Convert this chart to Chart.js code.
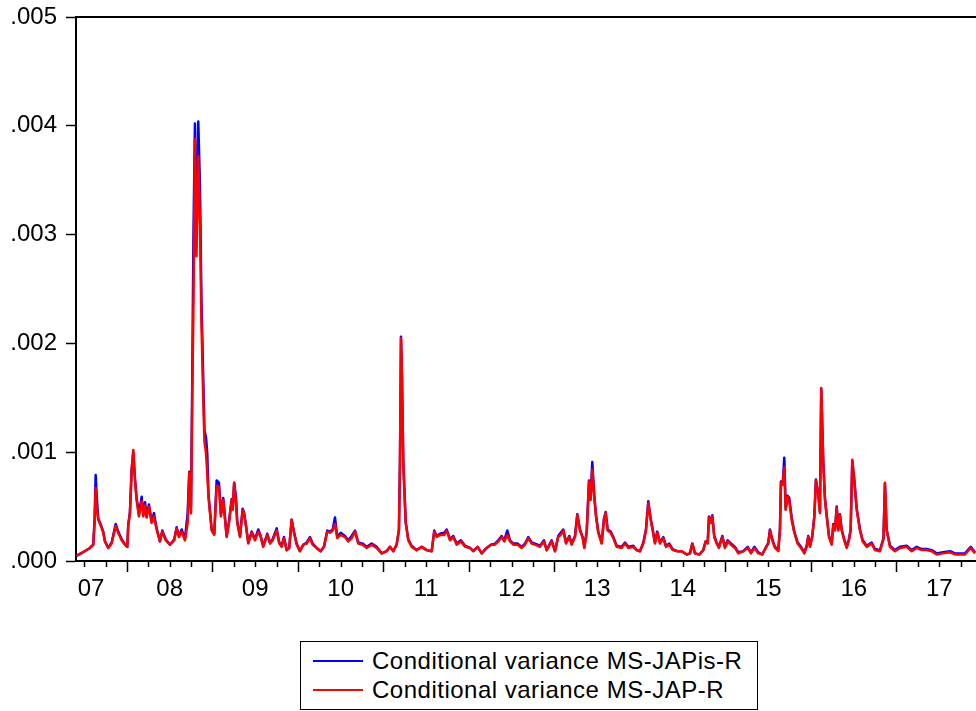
<!DOCTYPE html>
<html>
<head>
<meta charset="utf-8">
<script src="https://cdn.jsdelivr.net/npm/chart.js@4.4.1/dist/chart.umd.min.js"></script>
<style>
  body { margin: 0; overflow: hidden; background: #fff; }
  #wrap { position: relative; width: 976px; height: 711px; overflow: hidden; }
  #myChart { position: absolute; left: 0; top: 0; }
  #legend { position: absolute; left: 300px; top: 641px; width: 456px; height: 67px;
            border: 1px solid #000; background: #fff;
            font-family: "Liberation Sans", Arial, sans-serif; font-size: 24px; color: #000; }
  .row { position: absolute; left: 0; height: 24px; line-height: 24px; white-space: nowrap; }
  .swatch { position: absolute; left: 12px; top: 11px; width: 50px; height: 2px; }
  .txt { position: absolute; left: 71px; top: 0; letter-spacing: 0.5px; }
</style>
</head>
<body>
<div id="wrap">
  <canvas id="myChart" width="992" height="711" style="width:992px;height:711px"></canvas>
  <div id="legend"></div>
</div>
<script>
// decimal years of the readings
var dates = [
  2007.412, 2007.485, 2007.567, 2007.606, 2007.622, 2007.634, 2007.646, 2007.664, 2007.696, 2007.723,
  2007.743, 2007.781, 2007.821, 2007.868, 2007.898, 2007.938, 2007.977, 2008.004, 2008.015, 2008.035,
  2008.055, 2008.074, 2008.094, 2008.113, 2008.140, 2008.172, 2008.191, 2008.211, 2008.230, 2008.257,
  2008.289, 2008.316, 2008.347, 2008.386, 2008.413, 2008.453, 2008.503, 2008.553, 2008.581, 2008.608,
  2008.640, 2008.678, 2008.710, 2008.729, 2008.749, 2008.764, 2008.778, 2008.795, 2008.813, 2008.834,
  2008.854, 2008.871, 2008.889, 2008.906, 2008.924, 2008.939, 2008.953, 2008.991, 2009.021, 2009.049,
  2009.076, 2009.099, 2009.126, 2009.166, 2009.193, 2009.225, 2009.236, 2009.254, 2009.275, 2009.290,
  2009.322, 2009.353, 2009.368, 2009.392, 2009.419, 2009.458, 2009.497, 2009.536, 2009.564, 2009.594,
  2009.641, 2009.673, 2009.704, 2009.751, 2009.781, 2009.809, 2009.836, 2009.868, 2009.898, 2009.926,
  2009.953, 2009.985, 2010.023, 2010.062, 2010.102, 2010.140, 2010.172, 2010.219, 2010.265, 2010.304,
  2010.343, 2010.374, 2010.406, 2010.433, 2010.460, 2010.499, 2010.550, 2010.588, 2010.628, 2010.667,
  2010.705, 2010.757, 2010.804, 2010.862, 2010.920, 2010.979, 2011.037, 2011.076, 2011.115, 2011.154,
  2011.181, 2011.193, 2011.205, 2011.216, 2011.232, 2011.260, 2011.290, 2011.330, 2011.388, 2011.447,
  2011.505, 2011.564, 2011.594, 2011.622, 2011.661, 2011.711, 2011.739, 2011.778, 2011.816, 2011.856,
  2011.906, 2011.953, 2012.012, 2012.050, 2012.102, 2012.149, 2012.207, 2012.257, 2012.304, 2012.343,
  2012.382, 2012.413, 2012.448, 2012.480, 2012.518, 2012.570, 2012.616, 2012.655, 2012.694, 2012.733,
  2012.772, 2012.830, 2012.877, 2012.909, 2012.967, 2013.006, 2013.044, 2013.073, 2013.103, 2013.135,
  2013.173, 2013.201, 2013.240, 2013.267, 2013.298, 2013.330, 2013.349, 2013.377, 2013.404, 2013.423,
  2013.442, 2013.465, 2013.485, 2013.512, 2013.552, 2013.579, 2013.599, 2013.622, 2013.657, 2013.688,
  2013.727, 2013.786, 2013.825, 2013.863, 2013.922, 2013.961, 2014.000, 2014.039, 2014.070, 2014.097,
  2014.125, 2014.149, 2014.175, 2014.202, 2014.234, 2014.273, 2014.304, 2014.343, 2014.382, 2014.436,
  2014.488, 2014.546, 2014.585, 2014.612, 2014.643, 2014.694, 2014.740, 2014.768, 2014.792, 2014.807,
  2014.830, 2014.846, 2014.869, 2014.897, 2014.924, 2014.963, 2014.994, 2015.026, 2015.064, 2015.111,
  2015.150, 2015.208, 2015.260, 2015.298, 2015.337, 2015.384, 2015.430, 2015.470, 2015.501, 2015.520,
  2015.547, 2015.579, 2015.618, 2015.637, 2015.649, 2015.669, 2015.688, 2015.704, 2015.727, 2015.746,
  2015.774, 2015.805, 2015.844, 2015.883, 2015.922, 2015.950, 2015.968, 2015.988, 2016.015, 2016.039,
  2016.058, 2016.085, 2016.105, 2016.120, 2016.144, 2016.164, 2016.184, 2016.211, 2016.242, 2016.261,
  2016.281, 2016.301, 2016.319, 2016.339, 2016.359, 2016.389, 2016.418, 2016.444, 2016.464, 2016.483,
  2016.506, 2016.535, 2016.573, 2016.605, 2016.651, 2016.710, 2016.749, 2016.807, 2016.848, 2016.865,
  2016.885, 2016.924, 2016.982, 2017.041, 2017.119, 2017.178, 2017.236, 2017.295, 2017.353, 2017.412,
  2017.470, 2017.544, 2017.626, 2017.684, 2017.801, 2017.868, 2017.918
];

// Conditional variance MS-JAPis-R (blue)
var varJapIs = [
  .00005,.00008,.00012,.00015,.0004,.00079,.0006,.00039,.00033,.00027,
  .00018,.00012,.00017,.00034,.00027,.0002,.00015,.00013,.00033,.00045,
  .00084,.001,.00075,.00058,.00043,.00059,.00043,.00054,.00041,.00052,
  .00036,.00044,.0003,.00018,.00028,.0002,.00015,.0002,.00031,.00023,
  .00029,.0002,.00044,.00082,.0005,.0017,.003,.00402,.0029,.00404,
  .00344,.0024,.00178,.0012,.00114,.00099,.00062,.00029,.00025,.00074,
  .00072,.00043,.00058,.00023,.00036,.00057,.00048,.00072,.00059,.00036,
  .00023,.00048,.00045,.00033,.00017,.00027,.0002,.00029,.00023,.00014,
  .00025,.00017,.0002,.0003,.00017,.00014,.00022,.0001,.00012,.00038,
  .00027,.00016,.00009,.00015,.00017,.00022,.00016,.00012,.00009,.00013,
  .00028,.00027,.00029,.0004,.00022,.00026,.00023,.00019,.00023,.00028,
  .00017,.00016,.00013,.00016,.00013,.00007,.00009,.00013,.00009,.00015,
  .00029,.0009,.00206,.0017,.0009,.00036,.0002,.00014,.0001,.00013,
  .0001,.00009,.00028,.00023,.00025,.00026,.00029,.0002,.00023,.00016,
  .00019,.00014,.00012,.00009,.00013,.00007,.00012,.00015,.00016,.00019,
  .00023,.00019,.00028,.00019,.00016,.00016,.00013,.00016,.00022,.00017,
  .00016,.00014,.00019,.0001,.00019,.00009,.00023,.00026,.00029,.00017,
  .00023,.00016,.00023,.00043,.00029,.00022,.00013,.00027,.00074,.00058,
  .00091,.00061,.00043,.00027,.00017,.00039,.00045,.00029,.00027,.00022,
  .00014,.00013,.00017,.00013,.00014,.0001,.00009,.00017,.00029,.00055,
  .00039,.00029,.00017,.00027,.00017,.00022,.00014,.00016,.00011,.00009,
  .00009,.00006,.00007,.00016,.00007,.00006,.0001,.00018,.00017,.00041,
  .00036,.00042,.00023,.00017,.00013,.00023,.00013,.00019,.00016,.00013,
  .00008,.00009,.00013,.00008,.00013,.00008,.00006,.00012,.00017,.00029,
  .0002,.00013,.0001,.00029,.00073,.00071,.00095,.00048,.0006,.00058,
  .0004,.00027,.00017,.00013,.00008,.00014,.00023,.00014,.00023,.00041,
  .00075,.00062,.00045,.00158,.00091,.00057,.00042,.00023,.00016,.00034,
  .00029,.0005,.00029,.00043,.00029,.0002,.00013,.0002,.00029,.00092,
  .00075,.00048,.00029,.00019,.00014,.00017,.00011,.0001,.00021,.00071,
  .00029,.00014,.0001,.00013,.00014,.0001,.00013,.00011,.00011,.0001,
  .00007,.00008,.00009,.00007,.00007,.00013,.00008
];

// Conditional variance MS-JAP-R (red)
var varJap = [
  .00005,.00008,.00012,.00015,.00035,.00067,.0005,.00038,.00032,.00026,
  .00018,.00012,.00016,.00032,.00026,.00019,.00015,.00013,.00033,.00044,
  .00084,.00102,.00074,.00056,.00041,.00055,.00041,.00051,.0004,.0005,
  .00035,.00041,.00029,.00018,.00027,.00019,.00015,.00019,.0003,.00022,
  .00027,.00019,.00035,.00081,.00044,.0015,.0024,.00388,.0028,.00372,
  .0031,.0022,.0016,.0011,.001,.00081,.00059,.00028,.00024,.00069,
  .00068,.00041,.00056,.00022,.00035,.00056,.00047,.00072,.00052,.00035,
  .00022,.00047,.00044,.00032,.00016,.00026,.00019,.00027,.00022,.00013,
  .00024,.00016,.00019,.00028,.00016,.00013,.00021,.0001,.00012,.00038,
  .00026,.00015,.00009,.00015,.00016,.00021,.00015,.00012,.00009,.00013,
  .00027,.00026,.00028,.00034,.00021,.00024,.00022,.00018,.00021,.00027,
  .00016,.00015,.00012,.00015,.00012,.00007,.00009,.00013,.00009,.00015,
  .00028,.0009,.00205,.0017,.0009,.00035,.00019,.00013,.0001,.00013,
  .0001,.00009,.00027,.00022,.00024,.00024,.00028,.00019,.00022,.00015,
  .00018,.00013,.00012,.00009,.00013,.00007,.00012,.00015,.00015,.00018,
  .00022,.00018,.00024,.00018,.00015,.00015,.00012,.00015,.00021,.00016,
  .00015,.00013,.00018,.0001,.00018,.00009,.00022,.00024,.00028,.00016,
  .00022,.00015,.00022,.00042,.00028,.00021,.00012,.00026,.00073,.00056,
  .00084,.00059,.00041,.00026,.00016,.00038,.00044,.00028,.00026,.00021,
  .00013,.00012,.00016,.00012,.00013,.0001,.00009,.00016,.00028,.00053,
  .00038,.00028,.00016,.00026,.00016,.00021,.00013,.00015,.0001,.00009,
  .00009,.00006,.00007,.00016,.00007,.00006,.0001,.00018,.00016,.0004,
  .00035,.00041,.00022,.00016,.00012,.00022,.00012,.00018,.00015,.00012,
  .00007,.00009,.00012,.00007,.00012,.00007,.00006,.00012,.00016,.00028,
  .00019,.00012,.00009,.00028,.00072,.0007,.00086,.00047,.00059,.00055,
  .00038,.00026,.00016,.00012,.00007,.00013,.00022,.00013,.00022,.0004,
  .00074,.00061,.00044,.00159,.0009,.00056,.00041,.00022,.00015,.00033,
  .00028,.00049,.00028,.00042,.00028,.00019,.00012,.00019,.00028,.00093,
  .00074,.00047,.00028,.00018,.00013,.00016,.0001,.00009,.0002,.00072,
  .00028,.00013,.00009,.00012,.00013,.00009,.00012,.0001,.0001,.00009,
  .00006,.00007,.00008,.00006,.00006,.00012,.00007
];

var seriesNames = ['Conditional variance MS-JAPis-R', 'Conditional variance MS-JAP-R'];
var seriesColors = ['#0000ff', '#ff0000'];
var yearLabels = ['07', '08', '09', '10', '11', '12', '13', '14', '15', '16', '17'];
var labelPos = [2007.58, 2008.5, 2009.5, 2010.5, 2011.5, 2012.5, 2013.5, 2014.5, 2015.5, 2016.5, 2017.5];
var yTicks = [0, 0.001, 0.002, 0.003, 0.004, 0.005];

var FONT = '"Liberation Sans", Arial, sans-serif';

function points(vals) {
  var out = [];
  for (var i = 0; i < dates.length; i++) out.push({ x: dates[i], y: vals[i] });
  return out;
}

// top frame line, quarter ticks and year labels on the time axis
var framePlugin = {
  id: 'frame',
  afterDraw: function(chart) {
    var ctx = chart.ctx, a = chart.chartArea, xs = chart.scales.x;
    ctx.save();
    ctx.strokeStyle = '#000';
    ctx.lineWidth = 2;
    ctx.beginPath();
    ctx.moveTo(a.left, a.top);
    ctx.lineTo(a.right, a.top);
    ctx.lineTo(a.right, a.bottom);
    ctx.stroke();
    ctx.lineWidth = 1.5;
    for (var y = 2007; y <= 2018; y++) {
      for (var q = 0; q < 4; q++) {
        var v = y + q / 4;
        if (v < xs.min || v > xs.max) continue;
        var px = Math.round(xs.getPixelForValue(v)) + 0.5;
        ctx.beginPath();
        ctx.moveTo(px, a.bottom);
        ctx.lineTo(px, a.bottom + (q === 0 ? 11 : 6));
        ctx.stroke();
      }
    }
    ctx.fillStyle = '#000';
    ctx.font = '24px ' + FONT;
    ctx.textAlign = 'center';
    ctx.textBaseline = 'middle';
    for (var i = 0; i < yearLabels.length; i++) {
      ctx.fillText(yearLabels[i], xs.getPixelForValue(labelPos[i]), a.bottom + 28);
    }
    ctx.restore();
  }
};

var myChart = new Chart(document.getElementById('myChart'), {
  type: 'line',
  data: {
    datasets: [{
      label: seriesNames[0],
      data: points(varJapIs),
      borderColor: seriesColors[0],
      borderWidth: 2.5,
      order: 2
    }, {
      label: seriesNames[1],
      data: points(varJap),
      borderColor: seriesColors[1],
      borderWidth: 2.5,
      order: 1
    }]
  },
  options: {
    responsive: false,
    animation: false,
    devicePixelRatio: 1,
    layout: { padding: { top: 17, right: 6, left: 0, bottom: 0 } },
    elements: {
      point: { radius: 0 },
      line: { tension: 0, borderJoinStyle: 'round', fill: false }
    },
    plugins: { legend: { display: false }, tooltip: { enabled: false } },
    scales: {
      x: {
        type: 'linear',
        min: 2007.404,
        max: 2018.047,
        grid: { display: false },
        ticks: { display: false },
        border: { display: true, color: '#000', width: 2 },
        afterFit: function(scale) { scale.height = 150; }
      },
      y: {
        min: 0,
        max: 0.005,
        afterBuildTicks: function(scale) {
          scale.ticks = yTicks.map(function(v) { return { value: v }; });
        },
        afterFit: function(scale) {
          scale.width = 76;
          scale.paddingTop = 0;
          scale.paddingBottom = 0;
        },
        grid: { drawOnChartArea: false, tickLength: 10, tickColor: '#000', tickWidth: 1.5 },
        border: { color: '#000', width: 2 },
        ticks: {
          color: '#000',
          padding: 9,
          font: { family: FONT, size: 24 },
          callback: function(v) { return Number(v).toFixed(3).replace('0.', '.'); }
        }
      }
    }
  },
  plugins: [framePlugin]
});

// boxed legend below the chart
var legend = document.getElementById('legend');
var rowTops = [7, 36];
myChart.data.datasets.forEach(function(ds, i) {
  var row = document.createElement('DIV');
  row.className = 'row';
  row.style.top = rowTops[i] + 'px';
  var sw = document.createElement('DIV');
  sw.className = 'swatch';
  sw.style.backgroundColor = ds.borderColor;
  row.appendChild(sw);
  var t = document.createElement('SPAN');
  t.className = 'txt';
  t.textContent = ds.label;
  row.appendChild(t);
  legend.appendChild(row);
});
</script>
</body>
</html>
